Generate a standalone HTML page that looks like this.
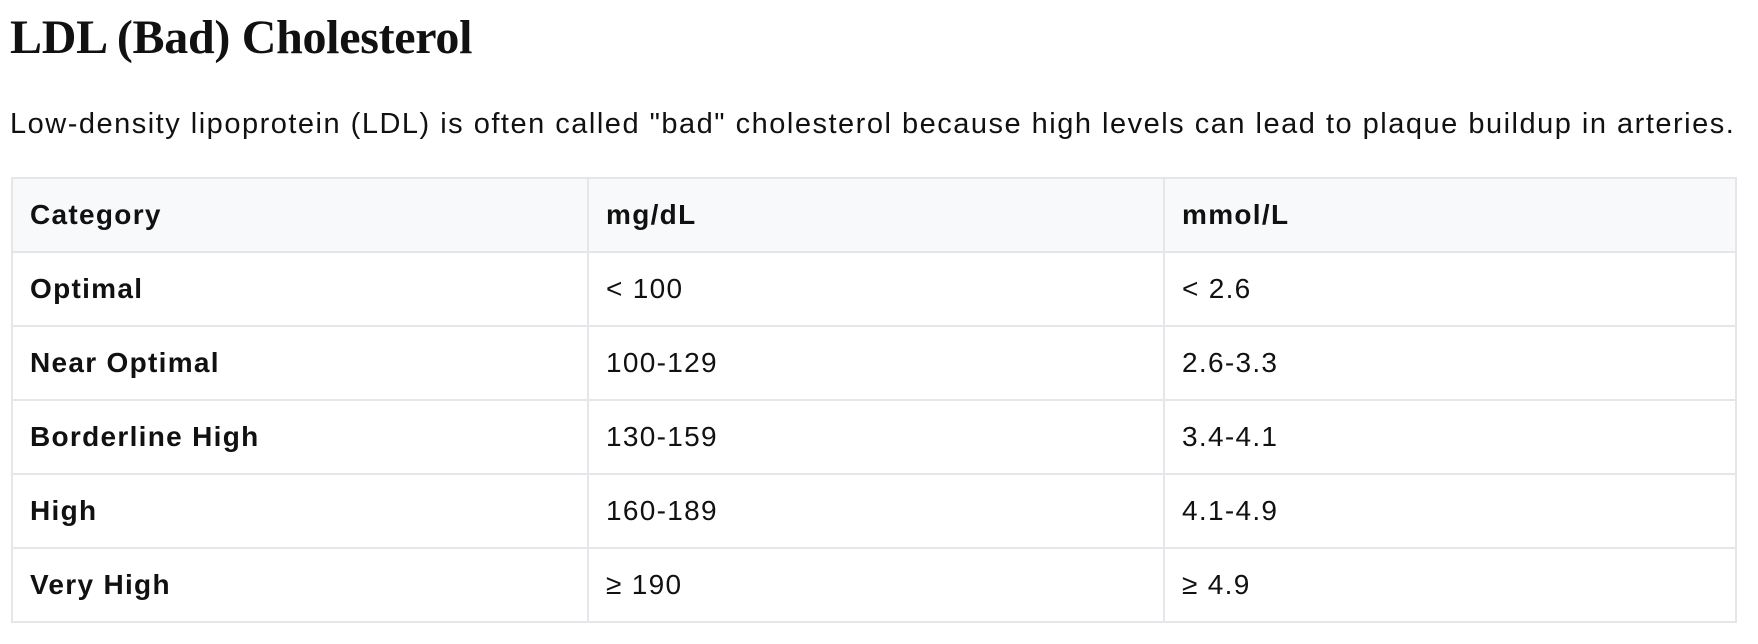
<!DOCTYPE html>
<html><head><meta charset="utf-8"><style>
body{margin:0;width:1758px;height:644px;background:#fff;font-family:"Liberation Sans",sans-serif;color:#111;position:relative;overflow:hidden}
h1{position:absolute;left:10px;top:10px;margin:0;font-family:"Liberation Serif",serif;font-weight:bold;font-size:48px;letter-spacing:-0.3px;white-space:nowrap}
p{position:absolute;left:10px;top:108px;margin:0;font-size:29px;white-space:nowrap;letter-spacing:1.5px}
table{position:absolute;left:11px;top:177px;width:1726px;border-collapse:collapse;font-size:28px;letter-spacing:1.3px}
td,th{border:2px solid #e5e5ea;height:72px;padding:0 0 0 17px;text-align:left;vertical-align:middle}
th{background:#f8f9fb;font-weight:bold}
td:first-child{font-weight:bold}
col.a{width:576px}col.b{width:576px}
</style></head><body>
<h1>LDL (Bad) Cholesterol</h1>
<p>Low-density lipoprotein (LDL) is often called "bad" cholesterol because high levels can lead to plaque buildup in arteries.</p>
<table><colgroup><col class="a"><col class="b"><col></colgroup>
<tr><th>Category</th><th>mg/dL</th><th>mmol/L</th></tr>
<tr><td>Optimal</td><td>&lt; 100</td><td>&lt; 2.6</td></tr>
<tr><td>Near Optimal</td><td>100-129</td><td>2.6-3.3</td></tr>
<tr><td>Borderline High</td><td>130-159</td><td>3.4-4.1</td></tr>
<tr><td>High</td><td>160-189</td><td>4.1-4.9</td></tr>
<tr><td>Very High</td><td>≥ 190</td><td>≥ 4.9</td></tr>
</table>
</body></html>
